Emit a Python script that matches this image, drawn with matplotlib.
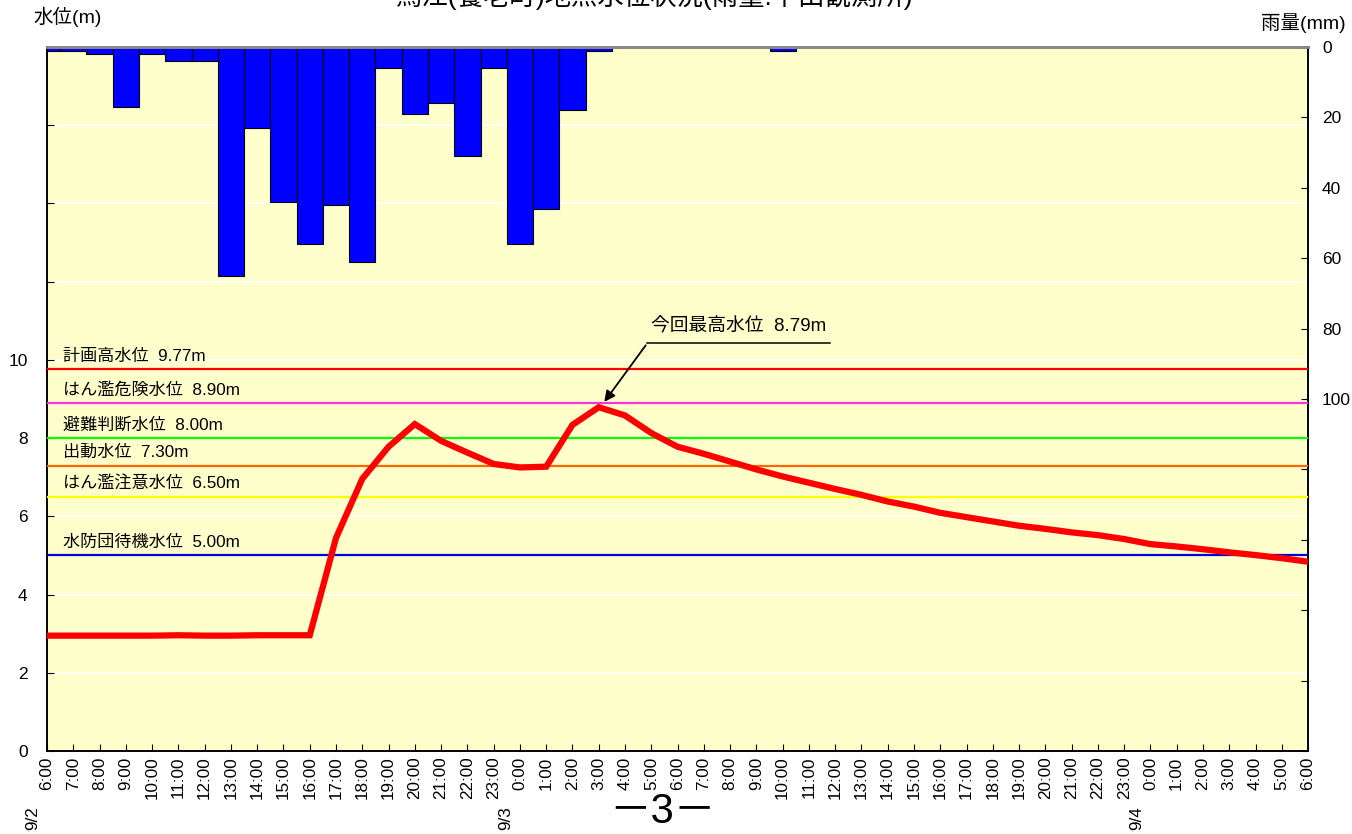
import numpy as np
import matplotlib
matplotlib.use('Agg')
import matplotlib.pyplot as plt
from matplotlib.transforms import blended_transform_factory

plt.rcParams['font.family'] = ['Liberation Sans', 'Noto Sans CJK JP']

#####DATA#######
# hourly, 9/2 6:00 -> 9/4 6:00
hours = [6, 7, 8, 9, 10, 11, 12, 13, 14, 15, 16, 17, 18, 19, 20, 21, 22, 23,
         0, 1, 2, 3, 4, 5, 6, 7, 8, 9, 10, 11, 12, 13, 14, 15, 16, 17, 18, 19, 20, 21, 22, 23,
         0, 1, 2, 3, 4, 5, 6]
dates = ['9/2', '9/3', '9/4']
date_idx = [0, 18, 42]

water_level = [2.95, 2.95, 2.95, 2.95, 2.95, 2.96, 2.95, 2.95, 2.96, 2.96, 2.96,
               5.45, 6.96, 7.78, 8.36, 7.93, 7.63, 7.34, 7.25, 7.27, 8.34, 8.79,
               8.58, 8.13, 7.78, 7.60, 7.40, 7.20, 7.02, 6.86, 6.70, 6.55, 6.38,
               6.25, 6.09, 5.98, 5.87, 5.76, 5.68, 5.59, 5.52, 5.42, 5.29, 5.23,
               5.16, 5.08, 5.01, 4.93, 4.84]

rain = [1, 1, 2, 17, 2, 4, 4, 65, 23, 44, 56, 45, 61, 6, 19, 16, 31, 6, 56, 46, 18, 1,
        0, 0, 0, 0, 0, 0, 1, 0, 0, 0, 0, 0, 0, 0, 0, 0, 0, 0, 0, 0, 0, 0,
        0, 0, 0, 0, 0]

ref_names = ['計画高水位', 'はん濫危険水位', '避難判断水位', '出動水位', 'はん濫注意水位', '水防団待機水位']
ref_levels = [9.77, 8.90, 8.00, 7.30, 6.50, 5.00]
ref_colors = ['#FF0000', '#FF33DD', '#00FF00', '#FF6600', '#FFFF00', '#0000DD']

level_ticks = [0, 2, 4, 6, 8, 10, 12, 14, 16, 18]
rain_ticks = [0, 20, 40, 60, 80, 100, 120, 140, 160, 180, 200]

time_labels = ['%d:00' % h for h in hours]
x = np.arange(len(hours))

#############PLOT####################
fig = plt.figure(figsize=(13.52, 8.34), dpi=100)
ax = fig.add_axes([0.0348, 0.0995, 0.9327, 0.8441])
ax2 = ax.twinx()
ax.set_zorder(2)
ax2.set_zorder(1)
ax.patch.set_visible(False)
ax2.patch.set_visible(True)
ax2.patch.set_facecolor('#FFFFCC')

# rain bars (right axis, inverted)
ax2.bar(x, rain, width=1.0, color='#0000FF', edgecolor='black', linewidth=0.8, zorder=2)
ax2.set_ylim(200, 0)
ax2.set_yticks(rain_ticks)
ax2.set_yticklabels([str(t) if t <= 100 else '' for t in rain_ticks])
ax2.tick_params(axis='y', direction='in', length=5, pad=10, labelsize=12.5)

# white grid lines under the bars
grid_tr = blended_transform_factory(ax2.transAxes, ax.transData)
for v in level_ticks[1:-1]:
    ax2.plot([0, 1], [v, v], transform=grid_tr, color='white', lw=1.2, zorder=1)

# reference levels
for name, lv, c in zip(ref_names, ref_levels, ref_colors):
    ax.axhline(lv, color=c, lw=1.6, zorder=3)
    ax.annotate('%s  %.2fm' % (name, lv), xy=(0, lv), xytext=(16, 13),
                textcoords='offset pixels', fontsize=12.3, va='center', ha='left')

# water level
ax.plot(x, water_level, color='#FF0000', lw=4.5, zorder=5, solid_joinstyle='miter')

# peak annotation
ipk = int(np.argmax(water_level))
vpk = water_level[ipk]
ax.annotate('', xy=(x[ipk] + 0.15, vpk + 0.08), xytext=(x[ipk] + 1.85, vpk + 1.64),
            arrowprops=dict(arrowstyle='-|>', color='black', lw=1.3, mutation_scale=16), zorder=6)
ax.plot([x[ipk] + 1.85, x[ipk] + 8.8], [vpk + 1.64, vpk + 1.64], color='black', lw=1.1, zorder=6)
ax.text(x[ipk] + 2.0, vpk + 2.05, '今回最高水位  %.2fm' % vpk, fontsize=13.5, va='center', ha='left')

ax.set_xlim(0, len(hours) - 1)
ax.set_ylim(0, 18)
ax.set_yticks(level_ticks)
ax.set_yticklabels([str(t) if t <= 10 else '' for t in level_ticks])
ax.tick_params(axis='y', direction='in', length=5, pad=14, labelsize=12.5)
ax.set_xticks(x)
ax.set_xticklabels(time_labels, rotation=90, fontsize=12.3)
ax.tick_params(axis='x', direction='in', length=5, pad=4)

for a in (ax, ax2):
    a.spines['top'].set_color('#888888')
    a.spines['top'].set_linewidth(2)
    a.spines['left'].set_linewidth(1.2)
    a.spines['right'].set_linewidth(1.2)
    a.spines['bottom'].set_linewidth(1.2)

# date labels under the hour labels
for d, i in zip(dates, date_idx):
    ax.annotate(d, xy=(x[i], 0), xycoords=('data', 'axes fraction'), xytext=(-14, -79),
                textcoords='offset pixels', rotation=90, fontsize=12.3, ha='center', va='bottom')

# axis titles, page title (clipped at top), page number
fig.text(33 / 1352, 1 - 17 / 834, '水位(m)', fontsize=14, ha='left', va='center')
fig.text(1346 / 1352, 1 - 23 / 834, '雨量(mm)', fontsize=14, ha='right', va='center')
fig.text(655 / 1352, 1 - 5 / 834, '鳥江(養老町)地点水位状況(雨量:下山観測所)', fontsize=19,
         ha='center', va='baseline')
fig.text(662 / 1352, 1 - 812 / 834, '－3－', fontsize=30, ha='center', va='center')

fig.savefig('out.png', dpi=100, facecolor='white')
